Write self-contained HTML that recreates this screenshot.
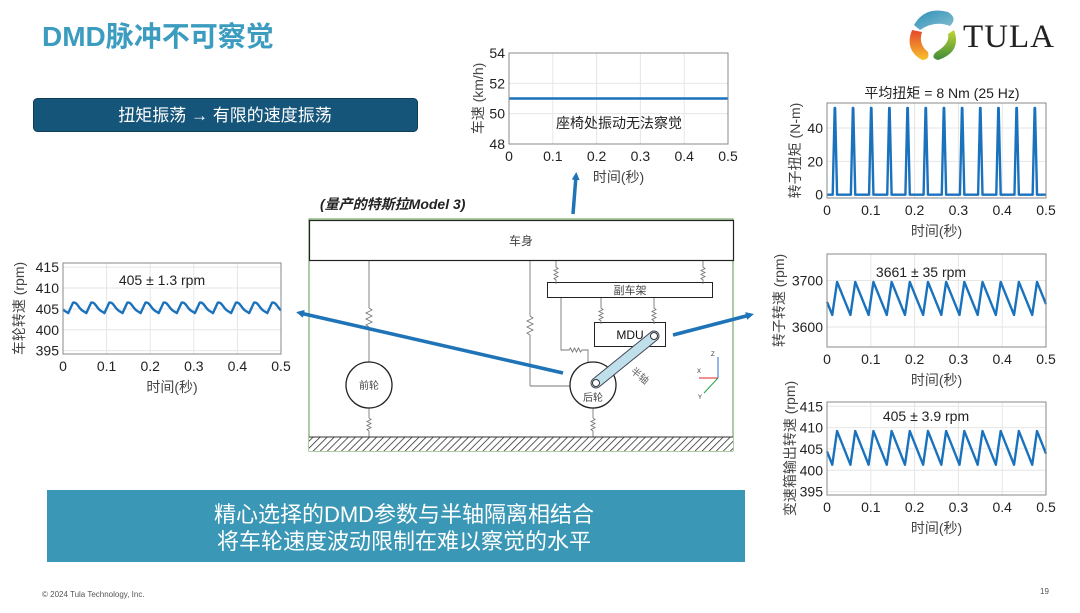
<!DOCTYPE html>
<html><head><meta charset="utf-8"><style>
body{margin:0;width:1080px;height:608px;overflow:hidden;background:#fff;font-family:"Liberation Sans","Noto Sans CJK SC",sans-serif;}
svg text{font-family:"Liberation Sans","Noto Sans CJK SC",sans-serif;}
</style></head><body>
<svg id="s" width="1080" height="608" viewBox="0 0 1080 608" xmlns="http://www.w3.org/2000/svg">
<defs>
<pattern id="hat" width="5" height="5" patternUnits="userSpaceOnUse" patternTransform="rotate(45)"><rect width="5" height="5" fill="#fff"/><line x1="0" y1="0" x2="0" y2="5" stroke="#333" stroke-width="1.6"/></pattern>
<marker id="ah" markerWidth="8" markerHeight="8" refX="4" refY="4" orient="auto" markerUnits="userSpaceOnUse"><path d="M0,0 L8,4 L0,8 z" fill="#1f73b7"/></marker>
<linearGradient id="g1" x1="0" y1="0" x2="1" y2="1"><stop offset="0" stop-color="#2a8fb8"/><stop offset="1" stop-color="#8ac0d0"/></linearGradient>
<linearGradient id="g2" x1="0" y1="0" x2="0" y2="1"><stop offset="0" stop-color="#e6452a"/><stop offset="1" stop-color="#f6c22e"/></linearGradient>
<linearGradient id="g3" x1="0" y1="0" x2="0" y2="1"><stop offset="0" stop-color="#c4d533"/><stop offset="1" stop-color="#3d8b3a"/></linearGradient>
</defs>
<text x="42" y="46" font-size="28" font-weight="bold" fill="#3b9cc0">DMD脉冲不可察觉</text>
<rect x="33.5" y="98.5" width="384" height="33" rx="4" fill="#16557a" stroke="#0f3d58"/>
<text x="225" y="121" font-size="17" fill="#fff" text-anchor="middle">扭矩振荡 → 有限的速度振荡</text>
<circle cx="935" cy="36" r="25" fill="#fff"/>
<path d="M914,25 Q925,6 948,12 Q958,18 950,26 Q935,20 920,30 Z" fill="url(#g1)"/>
<path d="M912,30 Q904,50 922,60 Q930,60 928,52 Q918,44 922,32 Z" fill="url(#g2)"/>
<path d="M954,30 Q962,52 938,60 Q930,58 936,52 Q950,44 948,34 Z" fill="url(#g3)"/>
<text x="963" y="47" font-size="33" fill="#222" letter-spacing="1" style="font-family:'Liberation Serif',serif">TULA</text>
<text x="320" y="209" font-size="14" font-weight="bold" font-style="italic" fill="#222">(量产的特斯拉Model 3)</text>
<rect x="309" y="219" width="424" height="232" fill="#fff" stroke="#5a9a48" stroke-width="1"/>
<rect x="309.5" y="220.5" width="424" height="40" fill="#fff" stroke="#222" stroke-width="1.2"/>
<text x="521" y="245" font-size="12" fill="#444" text-anchor="middle">车身</text>
<rect x="547.5" y="282.5" width="165" height="15" fill="#fff" stroke="#222"/>
<text x="630" y="294" font-size="11" fill="#444" text-anchor="middle">副车架</text>
<rect x="594.5" y="322.5" width="71" height="24" fill="#fff" stroke="#222"/>
<text x="630" y="339" font-size="12" fill="#111" text-anchor="middle">MDU</text>
<g stroke="#777" fill="none" stroke-width="0.9">
<line x1="369" y1="261" x2="369" y2="308"/><path d="M369,308 l3,2 l-6,3 l6,3 l-6,3 l6,3 l-6,3 l3,2"/><line x1="369" y1="327" x2="369" y2="362"/>
<line x1="369" y1="408" x2="369" y2="418"/><path d="M369,418 l2,1.5 l-4,2 l4,2 l-4,2 l4,2 l-4,2 l2,1.5"/><line x1="369" y1="431" x2="369" y2="437"/>
<line x1="530" y1="261" x2="530" y2="316"/><path d="M530,316 l3,2 l-6,3 l6,3 l-6,3 l6,3 l-6,3 l3,2"/><line x1="530" y1="335" x2="530" y2="386"/><line x1="530" y1="386" x2="570" y2="386"/>
<path d="M556,261 v6 l2,1.5 l-4,2 l4,2 l-4,2 l4,2 l-4,2 l2,1.5 v4"/>
<path d="M703,261 v6 l2,1.5 l-4,2 l4,2 l-4,2 l4,2 l-4,2 l2,1.5 v4"/>
<path d="M601,298 v10 l2,1.5 l-4,2 l4,2 l-4,2 l4,2 l-4,2 l2,1.5 v3"/>
<path d="M654,298 v10 l2,1.5 l-4,2 l4,2 l-4,2 l4,2 l-4,2 l2,1.5 v3"/>
<path d="M561,298 v52 h8 l1.5,-2 l2,4 l2,-4 l2,4 l2,-4 l2,4 l1.5,-2 h6 v12"/>
<line x1="593" y1="408" x2="593" y2="418"/><path d="M593,418 l2,1.5 l-4,2 l4,2 l-4,2 l4,2 l-4,2 l2,1.5"/><line x1="593" y1="431" x2="593" y2="437"/>
</g>
<circle cx="369" cy="385" r="23" fill="#fff" stroke="#222" stroke-width="1.3"/>
<text x="369" y="389" font-size="10" fill="#444" text-anchor="middle">前轮</text>
<circle cx="593" cy="385" r="23" fill="#fff" stroke="#222" stroke-width="1.3"/>
<text x="593" y="401" font-size="10" fill="#444" text-anchor="middle">后轮</text>
<line x1="596" y1="383" x2="654" y2="336" stroke="#445" stroke-width="11" stroke-linecap="round"/>
<line x1="596" y1="383" x2="654" y2="336" stroke="#bfe0ea" stroke-width="9" stroke-linecap="round"/>
<circle cx="596" cy="383" r="3.5" fill="#fff" stroke="#333"/><circle cx="654" cy="336" r="3.5" fill="#fff" stroke="#333"/>
<text x="630" y="372" font-size="10" fill="#666" transform="rotate(40 630 372)">半轴</text>
<rect x="309" y="437" width="424" height="14" fill="url(#hat)"/>
<line x1="309" y1="437" x2="733" y2="437" stroke="#333"/>
<g stroke-width="1"><line x1="718" y1="378" x2="718" y2="357" stroke="#2a6fd0"/><line x1="718" y1="378" x2="699" y2="378" stroke="#e02020"/><line x1="718" y1="378" x2="704" y2="393" stroke="#20a040"/></g>
<text x="711" y="356" font-size="6" fill="#333">Z</text><text x="697" y="373" font-size="6" fill="#333">X</text><text x="698" y="399" font-size="6" fill="#333">Y</text>
<g stroke="#1f73b7" stroke-width="3.5" fill="none">
<line x1="573" y1="214" x2="576" y2="176" marker-end="url(#ah)"/>
<line x1="563" y1="373" x2="300" y2="313" marker-end="url(#ah)"/>
<line x1="673" y1="335" x2="750" y2="315" marker-end="url(#ah)"/>
</g>
<g id="charts"></g>
<rect x="47" y="490" width="698" height="72" fill="#3a97b6"/>
<text x="404" y="522" font-size="22" fill="#fff" text-anchor="middle">精心选择的DMD参数与半轴隔离相结合</text>
<text x="404" y="549" font-size="22" fill="#fff" text-anchor="middle">将车轮速度波动限制在难以察觉的水平</text>
<text x="42" y="597" font-size="8" fill="#555">© 2024 Tula Technology, Inc.</text>
<text x="1040" y="594" font-size="8" fill="#555">19</text>
</svg>
<script>
var g=document.getElementById('charts'),h='';
function chart(o){
 var x0=o.x0,x1=o.x1,y0=o.y0,y1=o.y1,w=x1-x0;
 function Y(v){return y1-(v-o.vmin)/(o.vmax-o.vmin)*(y1-y0);}
 h+='<rect x="'+x0+'" y="'+y0+'" width="'+w+'" height="'+(y1-y0)+'" fill="#fff"/>';
 for(var i=0;i<=5;i++){var xx=x0+w*i/5;h+='<line x1="'+xx+'" y1="'+y0+'" x2="'+xx+'" y2="'+y1+'" stroke="#e6e6e6"/>';
  h+='<text x="'+xx+'" y="'+(y1+17)+'" font-size="14" fill="#222" text-anchor="middle">'+(i==0?'0':(i/10).toString())+'</text>';}
 o.ticks.forEach(function(v){var yy=Y(v);h+='<line x1="'+x0+'" y1="'+yy+'" x2="'+x1+'" y2="'+yy+'" stroke="#e6e6e6"/><text x="'+(x0-4)+'" y="'+(yy+5)+'" font-size="14" fill="#222" text-anchor="end">'+v+'</text>';});
 var pts=[];for(var k=0;k<=3000;k++){var t=0.5*k/3000;pts.push((x0+w*t/0.5).toFixed(2)+','+Y(o.f(t)).toFixed(2));}
 h+='<polyline points="'+pts.join(' ')+'" fill="none" stroke="#1a72bd" stroke-width="2.4" stroke-linejoin="round"/>';
 h+='<rect x="'+x0+'" y="'+y0+'" width="'+w+'" height="'+(y1-y0)+'" fill="none" stroke="#888"/>';
 h+='<text x="'+(x0+w/2)+'" y="'+(y1+38)+'" font-size="14" fill="#444" text-anchor="middle">时间(秒)</text>';
 h+='<text transform="translate('+o.lx+','+((y0+y1)/2)+') rotate(-90)" font-size="14" fill="#444" text-anchor="middle">'+o.yl+'</text>';
 if(o.ann)h+='<text x="'+o.ann[0]+'" y="'+o.ann[1]+'" font-size="14" fill="#222" text-anchor="middle">'+o.ann[2]+'</text>';
}
var P=0.0415;
function saw(t,lo,hi){var p=((t-0.012)%P+P)%P;var r=0.011;return p<r?lo+(hi-lo)*p/r:hi-(hi-lo)*(p-r)/(P-r);}
function spike(t){var p=((t-0.018)%P+P)%P;if(p>P/2)p-=P;var a=Math.abs(p);return a<0.005?52*Math.min(1,(0.005-a)/0.0045):0;}
function wheel(t){var p=((t-0.012)%P+P)%P;var r=0.011;var lo=404,hi=406.5;if(p<r)return lo+(hi-lo)*p/r;var q=(p-r)/(P-r);return hi-(hi-lo)*q+0.5*Math.sin(q*Math.PI*2)*(1-q);}
chart({x0:509,x1:728,y0:53,y1:144,vmin:48,vmax:54,ticks:[48,50,52,54],f:function(){return 51;},lx:483,yl:'车速 (km/h)',ann:[619,128,'座椅处振动无法察觉']});
chart({x0:63,x1:281,y0:263,y1:354,vmin:394.2,vmax:416,ticks:[395,400,405,410,415],f:wheel,lx:24,yl:'车轮转速 (rpm)',ann:[162,285,'405 ± 1.3 rpm']});
chart({x0:827,x1:1046,y0:103,y1:198,vmin:-2,vmax:55,ticks:[0,20,40],f:spike,lx:800,yl:'转子扭矩 (N-m)'});
h+='<text x="942" y="98" font-size="14" fill="#222" text-anchor="middle">平均扭矩  = 8 Nm (25 Hz)</text>';
chart({x0:827,x1:1046,y0:254,y1:347,vmin:3557,vmax:3757,ticks:[3600,3700],f:function(t){return saw(t,3626,3697);},lx:784,yl:'转子转速 (rpm)',ann:[921,277,'3661 ± 35 rpm']});
chart({x0:827,x1:1046,y0:402,y1:495,vmin:394.2,vmax:416,ticks:[395,400,405,410,415],f:function(t){return saw(t,401.3,409.2);},lx:795,yl:'变速箱输出转速 (rpm)',ann:[926,421,'405 ± 3.9 rpm']});
g.innerHTML=h;
</script>
</body></html>
